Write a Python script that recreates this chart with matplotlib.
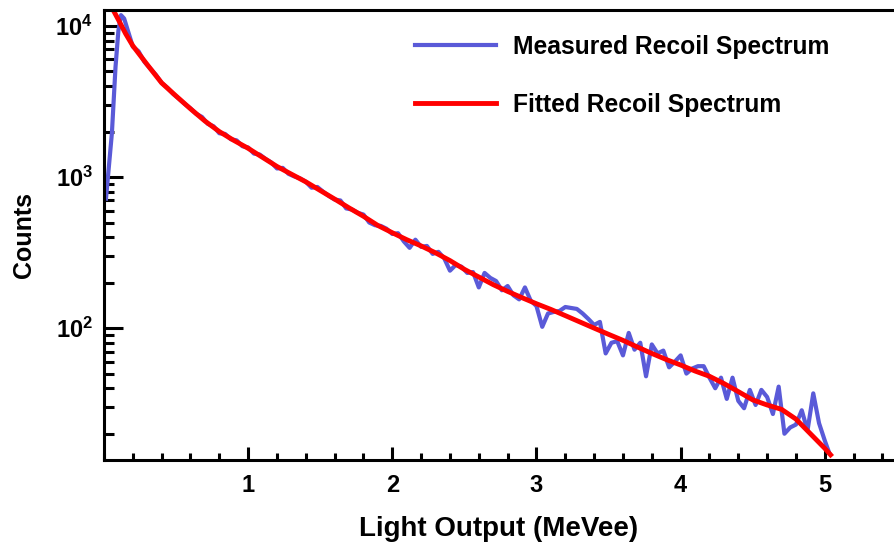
import matplotlib
matplotlib.use("Agg")
import matplotlib.pyplot as plt
from matplotlib.ticker import MultipleLocator, LogLocator, NullFormatter

plt.rcParams['font.family'] = ['Liberation Sans', 'DejaVu Sans']
plt.rcParams['font.weight'] = 'bold'
plt.rcParams['mathtext.default'] = 'bf'

# measured recoil spectrum (MeVee, counts)
meas_x = [0.014, 0.055, 0.08, 0.10, 0.118, 0.14, 0.16, 0.18,
          0.20, 0.24, 0.28, 0.32, 0.36, 0.40, 0.44, 0.48, 0.52, 0.56,
          0.60, 0.64, 0.68, 0.72, 0.76, 0.80, 0.84, 0.88, 0.92, 0.96,
          1.00, 1.04, 1.08, 1.12, 1.16, 1.20, 1.24, 1.28, 1.32, 1.36,
          1.40, 1.44, 1.48, 1.52, 1.56, 1.60, 1.64, 1.68, 1.72, 1.76,
          1.80, 1.84, 1.88, 1.92, 1.96, 2.00, 2.04, 2.08, 2.12, 2.16,
          2.20, 2.24, 2.28, 2.32, 2.36, 2.40, 2.44, 2.48, 2.52, 2.56,
          2.60, 2.64, 2.68, 2.72, 2.76, 2.80, 2.84, 2.88, 2.92, 2.96,
          3.00, 3.04, 3.08, 3.12, 3.16, 3.20, 3.24, 3.28, 3.32, 3.36,
          3.40, 3.44, 3.48, 3.52, 3.56, 3.60, 3.64, 3.68, 3.72, 3.76,
          3.80, 3.84, 3.88, 3.92, 3.96, 4.00, 4.04, 4.08, 4.12, 4.16,
          4.20, 4.24, 4.28, 4.32, 4.36, 4.40, 4.44, 4.48, 4.52, 4.56,
          4.60, 4.64, 4.68, 4.72, 4.76, 4.80, 4.84, 4.88, 4.92, 4.96,
          5.00, 5.03]
meas_y = [720, 1955, 5350, 9300, 11800, 11200, 9700, 8400,
          7300, 6800, 5800, 5250, 4750, 4200, 3900, 3550, 3300, 3050,
          2850, 2620, 2500, 2250, 2170, 1950, 1930, 1780, 1750, 1600,
          1570, 1430, 1410, 1320, 1250, 1140, 1150, 1050, 1010, 980,
          930, 850, 860, 800, 750, 710, 700, 620, 610, 580,
          565, 500, 480, 475, 455, 420, 425, 375, 340, 385,
          345, 350, 310, 320, 290, 240, 262, 255, 232, 235,
          186, 232, 215, 205, 178, 190, 165, 155, 186, 152,
          140, 102, 125, 128, 130, 138, 136, 134, 125, 115,
          105, 110, 68, 80, 82, 66, 93, 72, 80, 48,
          78, 68, 71, 55, 60, 66, 50, 54, 56, 56,
          47, 40, 47, 34, 47, 33, 29.5, 39, 31, 39,
          35, 27, 41, 20, 22, 23, 28.6, 21, 37, 23.5,
          18, 15]

# fitted recoil spectrum
fit_x = [0.05, 0.10, 0.15, 0.20, 0.30, 0.40, 0.50, 0.60, 0.70, 0.80, 0.90,
         1.00, 1.10, 1.20, 1.30, 1.40, 1.50, 1.60, 1.70, 1.80, 1.90,
         2.00, 2.10, 2.20, 2.30, 2.40, 2.50, 2.60, 2.70, 2.80, 2.90,
         3.00, 3.10, 3.20, 3.30, 3.40, 3.50, 3.60, 3.70, 3.80, 3.90,
         4.00, 4.10, 4.20, 4.30, 4.40, 4.50, 4.60, 4.70, 4.80, 4.90,
         5.00, 5.04]
fit_y = [13500, 11000, 8900, 7400, 5550, 4200, 3440, 2830, 2350, 2000, 1750,
         1550, 1350, 1175, 1045, 930, 815, 715, 625, 550, 478,
         428, 385, 350, 315, 280, 245, 218, 194, 175, 159,
         145, 133, 121, 110, 100, 91, 83, 75, 68, 62,
         57, 52, 48, 43, 38, 33.5, 31, 29, 25, 20,
         16, 14.5]

fig = plt.figure(figsize=(8.94, 5.46), dpi=100)
ax = fig.add_axes([0.1163, 0.1575, 0.8837, 0.8242])

ax.plot(meas_x, meas_y, color='#5a5ad8', lw=3.0, label='Measured Recoil Spectrum')
ax.plot(fit_x, fit_y, color='#ff0000', lw=3.5, label='Fitted Recoil Spectrum')

ax.set_yscale('log')
ax.set_xlim(0, 5.48)
ax.set_ylim(13.4, 12760)

ax.xaxis.set_major_locator(MultipleLocator(1))
ax.xaxis.set_minor_locator(MultipleLocator(0.2))
ax.yaxis.set_major_locator(LogLocator(base=10, numticks=10))
ax.yaxis.set_minor_locator(LogLocator(base=10, subs=range(2, 10), numticks=50))
ax.yaxis.set_minor_formatter(NullFormatter())
ax.set_xticks([1, 2, 3, 4, 5])
ax.set_xticklabels(['1', '2', '3', '4', '5'])

ax.tick_params(which='major', direction='in', length=9.5, width=2.2, labelsize=17, pad=10)
ax.tick_params(which='minor', direction='in', length=5, width=2.2)
ax.tick_params(axis='y', which='major', length=14, pad=8)
ax.tick_params(axis='y', which='minor', length=7.5)
ax.tick_params(top=False, right=False, which='both')

for s in ['left', 'bottom', 'top']:
    ax.spines[s].set_linewidth(2.2)
ax.spines['right'].set_visible(False)

ax.set_xlabel('Light Output (MeVee)', fontsize=20, fontweight='bold', labelpad=14)
ax.set_ylabel('Counts', fontsize=18, fontweight='bold', labelpad=14)

ax.legend(loc='upper left', bbox_to_anchor=(0.381, 0.967), frameon=False,
          handlelength=3.3, handletextpad=0.7, labelspacing=1.38,
          borderaxespad=0, prop={'weight': 'bold', 'size': 17.7})

fig.savefig('out.png', dpi=100)
